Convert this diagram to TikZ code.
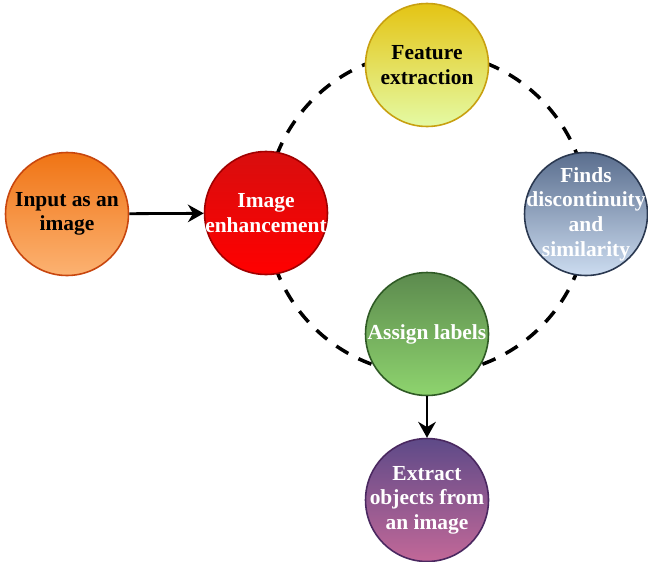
\documentclass[tikz,border=0pt]{standalone}
\usepackage{fontspec}
\setmainfont{Liberation Serif}
\usetikzlibrary{arrows.meta}
\definecolor{inputtop}{HTML}{F07414}
\definecolor{inputbot}{HTML}{FCB272}
\definecolor{inputedge}{HTML}{C8460E}
\definecolor{enhtop}{HTML}{D80E0E}
\definecolor{enhbot}{HTML}{FF0000}
\definecolor{enhedge}{HTML}{A00000}
\definecolor{feattop}{HTML}{E4C414}
\definecolor{featbot}{HTML}{E4FAA4}
\definecolor{featedge}{HTML}{C8A010}
\definecolor{findtop}{HTML}{5A6E8E}
\definecolor{findbot}{HTML}{CCDCF0}
\definecolor{findedge}{HTML}{2A3850}
\definecolor{assigntop}{HTML}{5C8A4E}
\definecolor{assignbot}{HTML}{8ED46E}
\definecolor{assignedge}{HTML}{2F5A25}
\definecolor{extracttop}{HTML}{5E4A88}
\definecolor{extractbot}{HTML}{C26898}
\definecolor{extractedge}{HTML}{4A2860}
\begin{document}
\begin{tikzpicture}[x=0.02cm,y=-0.02cm,
        stage/.style={circle,draw,line width=0.9pt,minimum size=2.46cm,inner sep=-20pt,align=center,
            font=\bfseries\fontsize{12.2}{14}\selectfont},
        flow/.style={line width=1.6pt,-{Stealth[length=9pt,width=10pt]}},
        ring/.style={line width=2pt,dash pattern=on 8pt off 6.5pt}]
    \useasboundingbox (0,0) rectangle (648,561);
    % dashed cycle behind the stages
    \draw[ring] (427,213) circle [radius=3.22cm];
    \node[stage,draw=inputedge,top color=inputtop,bottom color=inputbot] (input) at (67,214) {Input as an\\image};
    \node[stage,draw=enhedge,top color=enhtop,bottom color=enhbot,text=white] (enhance) at (266,213) {Image\\enhancement};
    \node[stage,draw=featedge,top color=feattop,bottom color=featbot] (feature) at (427,65) {Feature\\extraction};
    \node[stage,draw=findedge,top color=findtop,bottom color=findbot,text=white] (finds) at (586,214) {Finds\\discontinuity\\and\\similarity};
    \node[stage,draw=assignedge,top color=assigntop,bottom color=assignbot,text=white] (assign) at (427,334) {Assign labels};
    \node[stage,draw=extractedge,top color=extracttop,bottom color=extractbot,text=white] (extract) at (427,500) {Extract\\objects from\\an image};
    \draw[flow] (input) -- (enhance);
    \draw[flow] (assign) -- (extract);
\end{tikzpicture}
\end{document}
